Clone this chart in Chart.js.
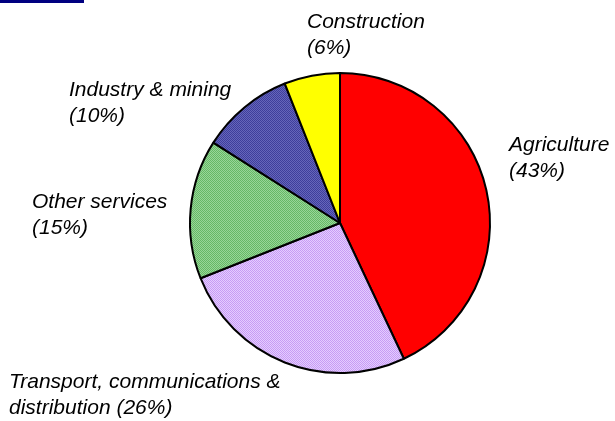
<!DOCTYPE html>
<html>
<head>
<meta charset="utf-8">
<script src="https://cdn.jsdelivr.net/npm/chart.js@4"></script>
<style>
  html, body { margin: 0; padding: 0; background: #fff; }
  #wrap { position: relative; width: 615px; height: 421px; }
  #bar { position: absolute; left: 0; top: 0; width: 84px; height: 3px; background: #000080; }
  canvas { position: absolute; left: 0; top: 0; }
</style>
</head>
<body>
<div id="wrap">
  <canvas id="c" width="615" height="421"></canvas>
  <div id="bar"></div>
</div>
<script>
const categories = ["Agriculture", "Transport, communications & distribution", "Other services", "Industry & mining", "Construction"];
const shares = [43, 26, 15, 10, 6];
const labelLines = [
  ["Agriculture", "(43%)"],
  ["Transport, communications &", "distribution (26%)"],
  ["Other services", "(15%)"],
  ["Industry & mining", "(10%)"],
  ["Construction", "(6%)"]
];

function pattern(a, b) {
  const p = document.createElement('canvas');
  p.width = 2; p.height = 2;
  const g = p.getContext('2d');
  g.fillStyle = a; g.fillRect(0, 0, 2, 2);
  g.fillStyle = b; g.fillRect(0, 0, 1, 1); g.fillRect(1, 1, 1, 1);
  return g.createPattern(p, 'repeat');
}

const fills = [
  '#FF0000',
  pattern('#E4CCFF', '#C79CF4'),
  pattern('#98D698', '#66B866'),
  pattern('#6666BA', '#3E3E9C'),
  '#FFFF00'
];

// label anchor positions (left x, first baseline y) - layout only
const labelPos = [
  [509, 151],
  [9, 388],
  [32, 208],
  [69, 96],
  [307, 28]
];

const labelPlugin = {
  id: 'sliceLabels',
  afterDraw(chart) {
    const ctx = chart.ctx;
    ctx.save();
    ctx.fillStyle = '#000';
    ctx.font = 'italic 21px "Liberation Sans", Arial, sans-serif';
    ctx.textBaseline = 'alphabetic';
    ctx.textAlign = 'left';
    labelLines.forEach((lines, i) => {
      const [x, y] = labelPos[i];
      lines.forEach((t, j) => ctx.fillText(t, x, y + j * 26));
    });
    ctx.restore();
  }
};

new Chart(document.getElementById('c'), {
  type: 'pie',
  data: {
    labels: categories,
    datasets: [{
      data: shares,
      backgroundColor: fills,
      borderColor: '#000',
      borderWidth: 2
    }]
  },
  options: {
    responsive: false,
    animation: false,
    radius: 150,
    layout: { padding: { left: 80, right: 15, top: 40, bottom: 15 } },
    plugins: { legend: { display: false }, tooltip: { enabled: false } }
  },
  plugins: [labelPlugin]
});
</script>
</body>
</html>
